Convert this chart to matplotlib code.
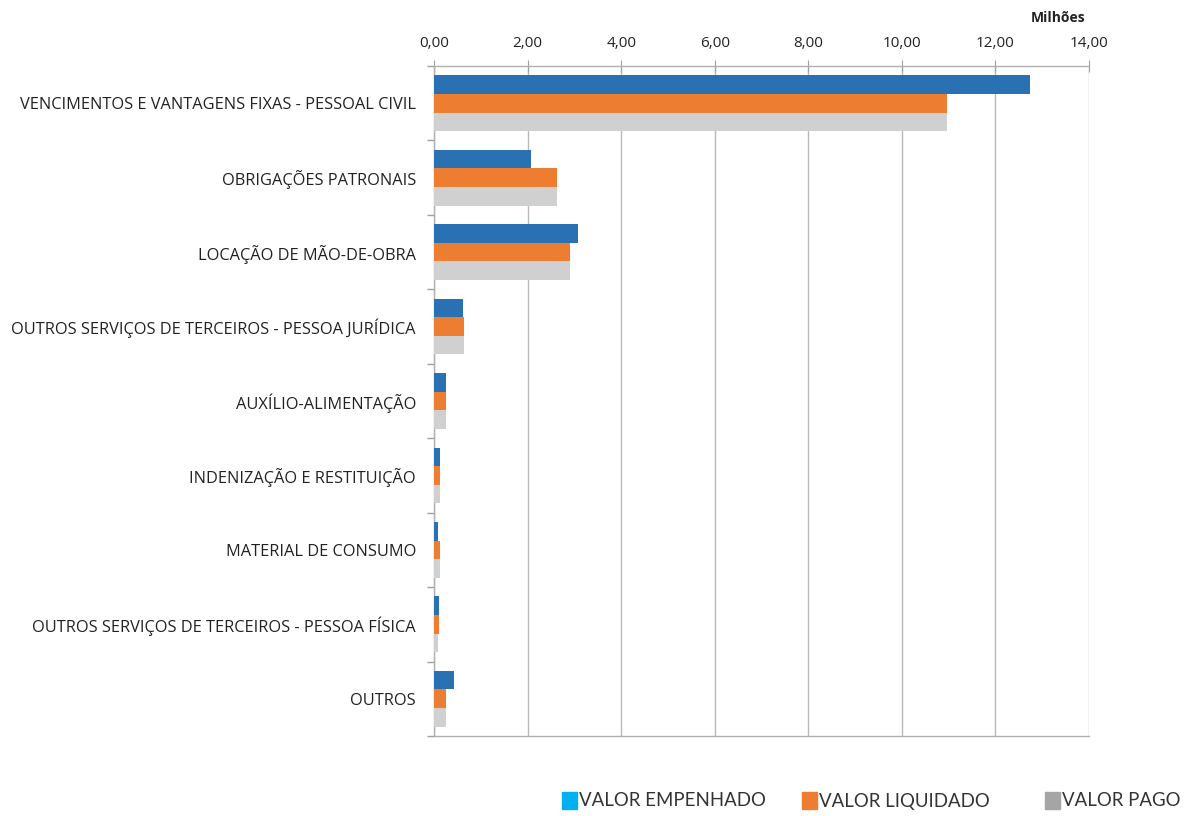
import matplotlib
matplotlib.use("Agg")
import matplotlib.pyplot as plt
from matplotlib.patches import Rectangle
import numpy as np

categories = [
    "VENCIMENTOS E VANTAGENS FIXAS - PESSOAL CIVIL",
    "OBRIGAÇÕES PATRONAIS",
    "LOCAÇÃO DE MÃO-DE-OBRA",
    "OUTROS SERVIÇOS DE TERCEIROS - PESSOA JURÍDICA",
    "AUXÍLIO-ALIMENTAÇÃO",
    "INDENIZAÇÃO E RESTITUIÇÃO",
    "MATERIAL DE CONSUMO",
    "OUTROS SERVIÇOS DE TERCEIROS - PESSOA FÍSICA",
    "OUTROS",
]
valor_empenhado = [12.74, 2.07, 3.08, 0.61, 0.26, 0.12, 0.09, 0.10, 0.42]
valor_liquidado = [10.96, 2.63, 2.91, 0.64, 0.26, 0.12, 0.12, 0.10, 0.26]
valor_pago = [10.96, 2.63, 2.91, 0.64, 0.26, 0.12, 0.12, 0.08, 0.26]
series_names = ["VALOR EMPENHADO", "VALOR LIQUIDADO", "VALOR PAGO"]
xticks = [0, 2, 4, 6, 8, 10, 12, 14]
xtick_labels = ["0,00", "2,00", "4,00", "6,00", "8,00", "10,00", "12,00", "14,00"]

bar_colors = ["#2A71B3", "#ED7D31", "#D0D0D0"]
legend_colors = ["#00B0F0", "#ED7D31", "#A5A5A5"]

plt.rcParams['font.family'] = ['Open Sans', 'DejaVu Sans']

fig = plt.figure(figsize=(11.89, 8.16), dpi=100)
ax = fig.add_axes([434/1189, 1-736/816, (1089-434)/1189, (736-66)/816])

y = np.arange(len(categories))
h = 0.25
for off, vals, c in zip([-h, 0, h], [valor_empenhado, valor_liquidado, valor_pago], bar_colors):
    ax.barh(y + off, vals, height=h, color=c, zorder=3)

ax.set_xlim(0, 14)
ax.set_ylim(len(categories) - 0.5, -0.5)
ax.xaxis.tick_top()
ax.set_xticks(xticks)
ax.set_xticklabels(xtick_labels, fontsize=11, color="#222222")
ax.tick_params(axis='x', direction='inout', length=8, color="#A0A0A0", pad=7)
ax.grid(axis='x', color="#B8B8B8", linewidth=1, zorder=0)

ax.set_yticks(y)
ax.set_yticklabels(categories, fontsize=11.8, color="#222222")
ax.tick_params(axis='y', which='major', length=0, pad=13)
ax.set_yticks(np.arange(-0.5, len(categories), 1.0), minor=True)
ax.tick_params(axis='y', which='minor', length=5, color="#A0A0A0", width=1)

for s in ['top', 'left', 'bottom']:
    ax.spines[s].set_color("#B0B0B0")
    ax.spines[s].set_linewidth(1)
ax.spines['right'].set_visible(False)

fig.text(1085/1189, 1-18/816, "Milhões", fontsize=10, fontweight='bold',
         ha='right', va='center', color="#222222")

# legend
leg_y = 1 - 801/816
sq_x = [562, 802, 1045]
for name, c, x in zip(series_names, legend_colors, sq_x):
    fig.patches.append(Rectangle((x/1189, leg_y - 8/816), 15/1189, 17/816,
                                 transform=fig.transFigure, color=c))
    fig.text((x + 17)/1189, leg_y, name, fontsize=13.4, va='center', ha='left',
             color="#333333", family=['Lato', 'DejaVu Sans'])

fig.savefig("out.png", dpi=100)
